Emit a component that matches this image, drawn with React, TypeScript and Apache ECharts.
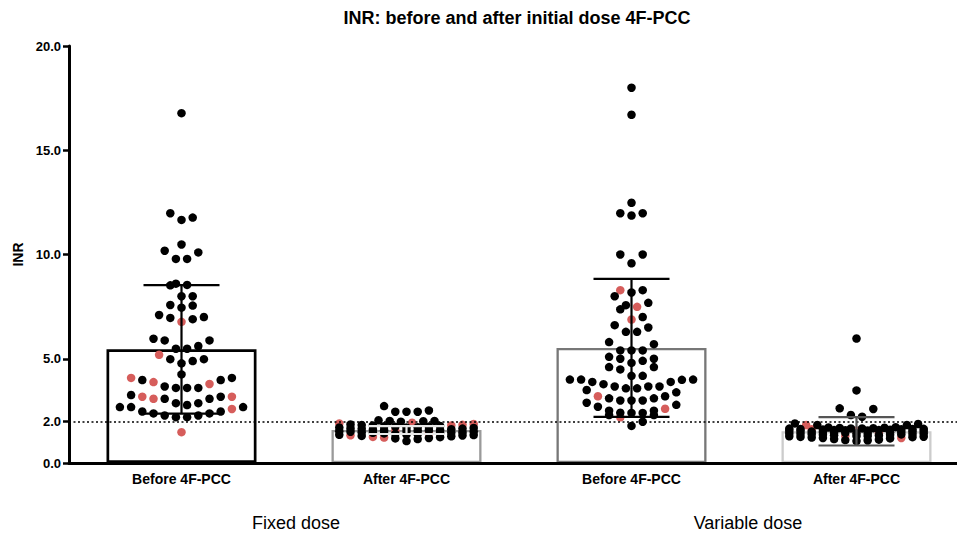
import React, { useEffect, useRef } from 'react';
import * as echarts from 'echarts';

// ---------- data ----------
const CATEGORIES = ['Before 4F-PCC', 'After 4F-PCC', 'Before 4F-PCC', 'After 4F-PCC'];
const GROUP_LABELS = ['Fixed dose', 'Variable dose'];
const TITLE = 'INR: before and after initial dose 4F-PCC';
const Y_NAME = 'INR';
const Y_TICKS = [0, 2, 5, 10, 15, 20];
const REF_LINE = 2.0;

const MEANS = [5.45, 1.58, 5.52, 1.52];
const SDS = [3.08, 0.19, 3.31, 0.68];

const FIXED_BEFORE_BLACK = [
  16.78, 11.98, 11.77, 11.66, 10.48, 10.18, 10.1, 9.79, 9.79, 8.6, 8.54, 8.52, 8.0, 8.0,
  7.58, 7.55, 7.45, 7.1, 7.0, 6.96, 6.9, 5.96, 5.88, 5.88, 5.61, 5.48, 5.48, 4.98, 4.98,
  4.89, 4.78, 4.25, 4.08, 3.98, 3.98, 3.67, 3.6, 3.6, 3.6, 3.26, 3.18, 3.08, 3.08, 2.87,
  2.87, 2.78, 2.68, 2.68, 2.68, 2.47, 2.47, 2.38, 2.38, 2.28, 2.28, 2.2, 2.2,
];
const FIXED_BEFORE_RED = [6.77, 5.19, 4.08, 3.88, 3.79, 3.18, 3.18, 3.08, 2.59, 1.48];

const FIXED_AFTER_BLACK = [
  2.73, 2.52, 2.46, 2.46, 2.46, 2.05, 2.02, 2.02, 2.0, 1.98, 1.85, 1.82, 1.8, 1.78, 1.76,
  1.75, 1.74, 1.72, 1.7, 1.7, 1.68, 1.66, 1.65, 1.64, 1.62, 1.6, 1.58, 1.57, 1.56, 1.55,
  1.54, 1.52, 1.5, 1.5, 1.48, 1.47, 1.46, 1.45, 1.44, 1.42, 1.4, 1.38, 1.36, 1.35, 1.34,
  1.32, 1.3, 1.28, 1.24, 1.2, 1.18, 1.15, 1.05,
];
const FIXED_AFTER_RED = [1.93, 1.9, 1.87, 1.83, 1.8, 1.55, 1.41, 1.33, 1.25, 1.22];

const VARIABLE_BEFORE_BLACK = [
  18.0, 16.7, 12.48, 11.98, 11.98, 11.87, 10.0, 10.0, 9.58, 8.29, 8.18, 8.0, 7.68, 7.57,
  7.37, 7.0, 6.61, 6.5, 6.29, 6.29, 5.8, 5.7, 5.4, 5.4, 5.4, 5.09, 5.0, 5.0, 4.9, 4.8,
  4.6, 4.6, 4.49, 4.18, 4.18, 4.0, 4.0, 4.0, 3.99, 3.89, 3.89, 3.78, 3.67, 3.67, 3.67,
  3.58, 3.58, 3.5, 3.39, 3.2, 3.1, 3.1, 3.0, 3.0, 3.0, 2.89, 2.79, 2.7, 2.51, 2.51, 2.41,
  2.4, 2.4, 2.3, 2.3, 1.98, 1.78,
];
const VARIABLE_BEFORE_RED = [8.29, 7.49, 6.88, 3.2, 2.6, 2.19];

const VARIABLE_AFTER_BLACK = [
  5.97, 3.48, 2.62, 2.59, 2.3, 2.22, 1.9, 1.87, 1.82, 1.82, 1.72,
  1.7, 1.69, 1.68, 1.67, 1.66, 1.66, 1.65, 1.64, 1.63, 1.63, 1.62, 1.61, 1.6,
  1.58, 1.58, 1.57, 1.56, 1.55, 1.54, 1.53, 1.52, 1.51, 1.5, 1.49, 1.48,
  1.46, 1.45, 1.44, 1.43, 1.42, 1.41, 1.4, 1.39, 1.38, 1.37, 1.36, 1.35,
  1.33, 1.32, 1.3, 1.29, 1.28, 1.26, 1.25, 1.24, 1.22, 1.2,
  1.18, 1.15, 1.12, 1.1, 1.08, 1.05,
];
const VARIABLE_AFTER_RED = [1.82, 1.62, 1.55, 1.45, 1.3, 1.2];

const GROUPS_BLACK = [FIXED_BEFORE_BLACK, FIXED_AFTER_BLACK, VARIABLE_BEFORE_BLACK, VARIABLE_AFTER_BLACK];
const GROUPS_RED = [FIXED_BEFORE_RED, FIXED_AFTER_RED, VARIABLE_BEFORE_RED, VARIABLE_AFTER_RED];

// ---------- style ----------
const FONT = '"Liberation Sans", Arial, Helvetica, sans-serif';
const BAR_BORDERS = ['#000000', '#9a9a9a', '#777777', '#cccccc'];
const BAR_BORDER_W = [2.7, 2.3, 2.3, 2.3];
const ERR_COLORS = ['#000000', '#e8e8e8', '#000000', '#555555'];
const RED = '#d65d5b';
const VIEW_W = 957;
const VIEW_H = 533;
const CANVAS_W = 990;
const GRID = { left: 69, top: 46, width: 900, height: 417 };
const CAT_PX = GRID.width / CATEGORIES.length;
const DOT_SPACING_PX = 11.2;
const ROW_BIN = 0.52; // value units
const MAX_PER_ROW = 13;

// GraphPad-like scatter layout: bin into rows, spread each row around center
function swarm(black: number[], red: number[], g: number) {
  const pts = [
    ...black.map((v) => ({ v, red: false })),
    ...red.map((v) => ({ v, red: true })),
  ].sort((a, b) => a.v - b.v);
  const rows: { v: number; red: boolean }[][] = [];
  let cur: { v: number; red: boolean }[] = [];
  for (const p of pts) {
    if (cur.length && (p.v - cur[0].v >= ROW_BIN || cur.length >= MAX_PER_ROW)) {
      rows.push(cur);
      cur = [];
    }
    cur.push(p);
  }
  if (cur.length) rows.push(cur);
  const out = { black: [] as number[][], red: [] as number[][] };
  for (const row of rows) {
    const n = row.length;
    const slots = Array.from({ length: n }, (_, k) => k - (n - 1) / 2).sort(
      (a, b) => Math.abs(a) - Math.abs(b) || b - a
    );
    row.forEach((p, i) => {
      const x = g + (slots[i] * DOT_SPACING_PX) / CAT_PX;
      (p.red ? out.red : out.black).push([x, p.v]);
    });
  }
  return out;
}

function buildOption() {
  const blackPts: number[][] = [];
  const redPts: number[][] = [];
  GROUPS_BLACK.forEach((b, g) => {
    const s = swarm(b, GROUPS_RED[g], g);
    blackPts.push(...s.black);
    redPts.push(...s.red);
  });

  const textStyleBase = { fill: '#000', align: 'center', verticalAlign: 'middle' };

  return {
    animation: false,
    backgroundColor: '#ffffff',
    textStyle: { fontFamily: FONT },
    graphic: [
      {
        type: 'text',
        x: 517,
        y: 18,
        style: { ...textStyleBase, text: TITLE, font: `bold 18px ${FONT}` },
      },
      {
        type: 'text',
        x: 296,
        y: 523,
        style: { ...textStyleBase, text: GROUP_LABELS[0], font: `18px ${FONT}` },
      },
      {
        type: 'text',
        x: 748,
        y: 523,
        style: { ...textStyleBase, text: GROUP_LABELS[1], font: `18px ${FONT}` },
      },
    ],
    grid: GRID,
    xAxis: [
      {
        type: 'category',
        data: CATEGORIES,
        z: 6,
        axisLine: { onZero: false, lineStyle: { color: '#000', width: 3 } },
        axisTick: { alignWithLabel: true, length: 6, lineStyle: { color: '#000', width: 2.5 } },
        axisLabel: {
          color: '#000',
          fontWeight: 'bold',
          fontSize: 14,
          fontFamily: FONT,
          margin: 9,
        },
        splitLine: { show: false },
      },
      {
        type: 'value',
        min: -0.5,
        max: CATEGORIES.length - 0.5,
        show: false,
      },
    ],
    yAxis: {
      type: 'value',
      min: 0,
      max: 20,
      z: 6,
      name: Y_NAME,
      nameLocation: 'middle',
      nameGap: 41,
      nameTextStyle: { color: '#000', fontWeight: 'bold', fontSize: 14, fontFamily: FONT },
      axisLine: { show: true, onZero: false, lineStyle: { color: '#000', width: 3 } },
      axisTick: { show: true, length: 6, customValues: Y_TICKS, lineStyle: { color: '#000', width: 2.5 } },
      axisLabel: {
        customValues: Y_TICKS,
        formatter: (v: number) => v.toFixed(1),
        color: '#000',
        fontWeight: 'bold',
        fontSize: 13,
        fontFamily: FONT,
        margin: 8,
      },
      splitLine: { show: false },
    },
    series: [
      {
        type: 'bar',
        xAxisIndex: 0,
        barWidth: 150,
        z: 2,
        data: MEANS.map((m, i) => ({
          value: m,
          itemStyle: { color: '#ffffff', borderColor: BAR_BORDERS[i], borderWidth: BAR_BORDER_W[i] },
        })),
        markLine: {
          silent: true,
          symbol: ['none', 'none'],
          label: { show: false },
          lineStyle: { type: [2, 2.5], color: '#000', width: 1.6 },
          data: [{ yAxis: REF_LINE }],
        },
      },
      {
        type: 'scatter',
        xAxisIndex: 1,
        z: 3,
        symbol: 'circle',
        symbolSize: 8.5,
        itemStyle: { color: RED, opacity: 1 },
        data: redPts,
      },
      {
        type: 'scatter',
        xAxisIndex: 1,
        z: 4,
        symbol: 'circle',
        symbolSize: 8.5,
        itemStyle: { color: '#000', opacity: 1 },
        data: blackPts,
      },
      {
        type: 'custom',
        xAxisIndex: 0,
        z: 5,
        encode: { x: 0, y: 1 },
        data: MEANS.map((m, i) => [i, m, SDS[i]]),
        renderItem: (params: any, api: any) => {
          const i = api.value(0);
          const m = api.value(1);
          const s = api.value(2);
          const top = api.coord([i, m + s]);
          const bot = api.coord([i, m - s]);
          const half = 38;
          const style = { stroke: ERR_COLORS[i], lineWidth: 2.2 };
          return {
            type: 'group',
            children: [
              { type: 'line', shape: { x1: top[0], y1: top[1], x2: bot[0], y2: bot[1] }, style },
              { type: 'line', shape: { x1: top[0] - half, y1: top[1], x2: top[0] + half, y2: top[1] }, style },
              { type: 'line', shape: { x1: bot[0] - half, y1: bot[1], x2: bot[0] + half, y2: bot[1] }, style },
            ],
          };
        },
      },
    ],
  };
}

export default function App() {
  const ref = useRef<HTMLDivElement>(null);
  useEffect(() => {
    const chart = echarts.init(ref.current!, null, { renderer: 'svg' });
    chart.setOption(buildOption() as any);
    return () => chart.dispose();
  }, []);
  return (
    <div
      style={{
        position: 'absolute',
        left: 0,
        top: 0,
        width: VIEW_W,
        height: VIEW_H,
        overflow: 'hidden',
        background: '#fff',
      }}
    >
      <div ref={ref} style={{ width: CANVAS_W, height: VIEW_H }} />
    </div>
  );
}
